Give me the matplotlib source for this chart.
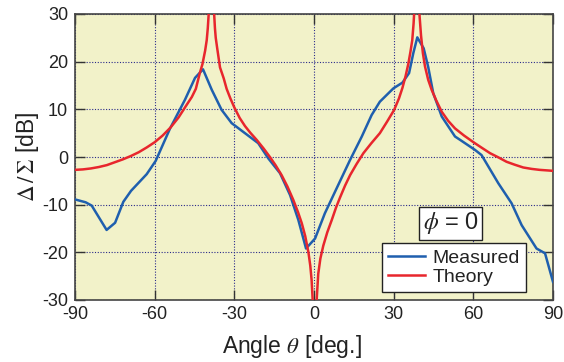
import matplotlib
matplotlib.use("Agg")
import matplotlib.pyplot as plt

plt.rcParams['font.family'] = ['Liberation Sans', 'DejaVu Sans']
plt.rcParams['mathtext.fontset'] = 'stix'
plt.rcParams['axes.unicode_minus'] = False

# Measured data
meas_theta = [-90, -86, -83.7, -78.1, -74.9, -71.8, -68.9, -63.0, -59.6, -54.2, -48.6,
              -44.8, -41.8, -38.5, -34.8, -31.0, -26.0, -21.0, -17.2, -12.8, -9.0,
              -5.9, -3.0, 0.4, 4.1, 8.5, 13.6, 18.0, 21.7, 24.8, 29.9, 33.3, 35.8,
              37.4, 38.9, 41.3, 43.0, 44.9, 48.1, 53.1, 55.0, 60.6, 63.1, 69.4, 74.4,
              78.2, 83.8, 87.0, 90.0]
meas_db = [-8.9, -9.5, -10.2, -15.3, -13.8, -9.4, -7.1, -3.6, -0.8, 6.0, 12.0,
           16.6, 18.4, 14.1, 9.9, 7.1, 5.0, 2.9, -0.3, -3.4, -8.0,
           -13.2, -19.2, -17.1, -11.8, -6.6, -0.6, 4.3, 8.8, 11.6, 14.4, 15.6, 17.6,
           21.8, 25.1, 22.8, 18.9, 13.4, 8.5, 4.3, 3.6, 1.5, 0.4, -5.5, -9.7,
           -14.3, -19.2, -20.2, -26.2]

# Theory curve
theo_theta = [-90, -87, -84, -81, -78, -75, -72, -69, -66, -63, -60, -57, -54, -51, -48,
              -46, -44.5, -43, -42, -41, -40.4, -40, -39.6, -39.2, -38.7,
              -38.2, -37.7, -37.3, -37.0, -36.5, -35.4, -34, -32.9, -31.5, -30, -28,
              -26, -24, -21.6, -19, -16.6, -14.5, -12.2, -10, -7.8, -6, -4.6, -3.3,
              -2.1, -1.4, -0.9, -0.5, -0.1, 0.25, 0.6, 1.0, 1.6, 2.4, 3.5, 5, 6.7,
              8.3, 9.8, 11.7, 13.6, 16, 18.6, 21.6, 24.8, 27.5, 30.2, 32, 33.3, 34.5,
              35.5, 36.3, 37.0, 37.5, 38.0, 38.6, 39.2, 39.7, 40.3, 41, 41.8, 43,
              44.3, 46, 48.1, 50.5, 53.1, 56.5, 60.3, 63, 66.3, 69.5, 72.5, 75.5,
              78.8, 82, 85, 90]
theo_db = [-2.7, -2.6, -2.4, -2.1, -1.7, -1.1, -0.5, 0.2, 1.0, 2.0, 3.1, 4.5, 6.2, 8.3, 10.9,
           12.6, 14.3, 17.6, 19.5, 22.3, 24.5, 27.0, 30.5, 38, 50,
           38, 31, 27, 25, 23, 18.8, 16.5, 14.3, 12.3, 10.4, 8.2,
           6.5, 5.1, 3.6, 1.8, 0.0, -1.7, -3.8, -6.2, -9.0, -11.6, -13.9, -16.6,
           -20.0, -22.8, -25.8, -30, -38, -50, -38, -30, -24.5, -21.3, -18.6, -15.8, -13.2,
           -10.6, -8.5, -6.0, -3.8, -1.5, 0.8, 2.9, 5.0, 7.4, 9.9, 12.3, 14.5, 17.0,
           19.5, 22.0, 24.5, 28, 33, 50, 36, 30, 25.5, 21.8, 19.0, 16.2,
           14.1, 11.9, 9.5, 7.6, 6.0, 4.5, 3.0, 2.0, 0.8, -0.1, -1.0, -1.6,
           -2.2, -2.5, -2.7, -2.9]

xticks = [-90, -60, -30, 0, 30, 60, 90]
yticks = [-30, -20, -10, 0, 10, 20, 30]

fig = plt.figure(figsize=(5.64, 3.62), dpi=100)
ax = fig.add_axes([75/564, 62/362, 478/564, 286/362])
ax.set_facecolor('#f2f2c9')

l1, = ax.plot(meas_theta, meas_db, color='#1f5fae', lw=1.8, label='Measured', zorder=3)
l2, = ax.plot(theo_theta, theo_db, color='#e8262d', lw=1.8, label='Theory', zorder=3)

ax.set_xlim(-90, 90)
ax.set_ylim(-30, 30)
ax.set_xticks(xticks)
ax.set_yticks(yticks)
ax.set_xticklabels([str(t) for t in xticks])
ax.set_yticklabels([str(t) for t in yticks])
ax.tick_params(direction='in', length=7, width=1.0, top=True, right=True,
               labelsize=13, colors='#333333', labelcolor='#222222')
ax.tick_params(axis='x', pad=4)
ax.tick_params(axis='y', pad=5)
ax.grid(True, linestyle=(0, (1, 1.5)), color='#2a2a8a', lw=0.8, zorder=1)
for s in ax.spines.values():
    s.set_color('#444444')
    s.set_linewidth(1.2)

ax.set_xlabel(r'Angle $\theta$ [deg.]', fontsize=16.5, color='#222222')
ax.xaxis.set_label_coords((292-75)/478, -0.115)
ax.set_ylabel(r'$\Delta\,/\,\Sigma$ [dB]', fontsize=16.5, color='#222222')
ax.yaxis.set_label_coords(-0.072, 0.5)

leg = ax.legend(loc='lower right', bbox_to_anchor=(0.9435, 0.028), borderaxespad=0,
                fontsize=14, fancybox=False, framealpha=1, edgecolor='#222222',
                handlelength=1.9, handletextpad=0.4, labelspacing=0.1,
                borderpad=0.3)
leg.get_frame().set_linewidth(1.0)
for t in leg.get_texts():
    t.set_color('#222222')

ax.text(0.7856, 0.269, r'$\phi$ = 0', transform=ax.transAxes, fontsize=17,
        ha='center', va='center', color='#222222', zorder=5,
        bbox=dict(boxstyle='square,pad=0.15', facecolor='white', edgecolor='#222222', lw=1.0))

fig.savefig('out.png', dpi=100)
